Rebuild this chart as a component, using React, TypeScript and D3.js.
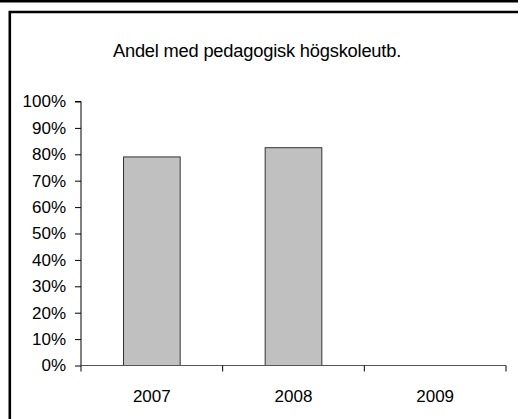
import { useEffect, useRef } from 'react'
import * as d3 from 'd3'

const years = ['2007', '2008', '2009']
const shares = [0.79, 0.825, null]
const yTicks = [0, 0.1, 0.2, 0.3, 0.4, 0.5, 0.6, 0.7, 0.8, 0.9, 1]
const title = 'Andel med pedagogisk högskoleutb.'

export default function App() {
  const ref = useRef<SVGSVGElement>(null)

  useEffect(() => {
    const width = 520
    const height = 419
    const svg = d3.select(ref.current)
    svg.selectAll('*').remove()

    svg.append('rect').attr('width', width).attr('height', height).attr('fill', '#fff')

    // top strip and frame (open on the right and bottom)
    svg.append('rect').attr('x', 0).attr('y', 0).attr('width', width - 2).attr('height', 2.5).attr('fill', '#000')
    svg.append('path')
      .attr('d', `M9.8,${height}V12H${width - 2}`)
      .attr('fill', 'none')
      .attr('stroke', '#000')
      .attr('stroke-width', 2.6)

    const font = 'Liberation Sans, Arial, sans-serif'

    svg.append('text')
      .attr('x', 257)
      .attr('y', 57)
      .attr('text-anchor', 'middle')
      .style('font-family', font)
      .style('font-size', '18.3px')
      .style('letter-spacing', '-0.2px')
      .text(title)

    const x = d3.scaleBand().domain(years).range([81, 506])
    const y = d3.scaleLinear().domain([0, 1]).range([365.5, 101.5])

    const g = svg.append('g')

    // bars
    g.selectAll('rect.bar')
      .data(years.map((yr, i) => ({ yr, v: shares[i] })).filter(d => d.v != null))
      .join('rect')
      .attr('class', 'bar')
      .attr('x', d => x(d.yr)! + x.bandwidth() * 0.3)
      .attr('width', x.bandwidth() * 0.4)
      .attr('y', d => y(d.v as number))
      .attr('height', d => y(0) - y(d.v as number))
      .attr('fill', '#c0c0c0')
      .attr('stroke', '#333')
      .attr('stroke-width', 1)

    // y axis
    const yAxis = g.append('g').attr('transform', 'translate(81,0)')
      .call(d3.axisLeft(y).tickValues(yTicks).tickSize(6).tickPadding(9).tickFormat(d3.format('.0%')))
    yAxis.select('.domain').attr('stroke', '#000').attr('d', `M-6,${y(1)}H0V${y(0)}`)
    yAxis.selectAll('.tick line').attr('stroke', '#000')
    yAxis.selectAll('text')
      .style('font-family', font)
      .style('font-size', '17px')
      .attr('fill', '#000')

    // x axis
    const xAxis = g.append('g').attr('transform', `translate(0,${y(0)})`)
    xAxis.append('line')
      .attr('x1', 81).attr('x2', 506)
      .attr('stroke', '#555').attr('stroke-width', 1.2)
    const bounds = [...years.map(d => x(d)!), 506]
    xAxis.selectAll('line.tick')
      .data(bounds)
      .join('line')
      .attr('class', 'tick')
      .attr('x1', d => d).attr('x2', d => d)
      .attr('y1', 0).attr('y2', 6)
      .attr('stroke', '#000')
    xAxis.selectAll('text')
      .data(years)
      .join('text')
      .attr('x', d => x(d)! + x.bandwidth() / 2)
      .attr('y', 36)
      .attr('text-anchor', 'middle')
      .style('font-family', font)
      .style('font-size', '17px')
      .text(d => d)
  }, [])

  return (
    <div style={{ position: 'fixed', left: 0, top: 0 }}>
      <svg ref={ref} width={520} height={419} style={{ display: 'block' }} />
    </div>
  )
}
